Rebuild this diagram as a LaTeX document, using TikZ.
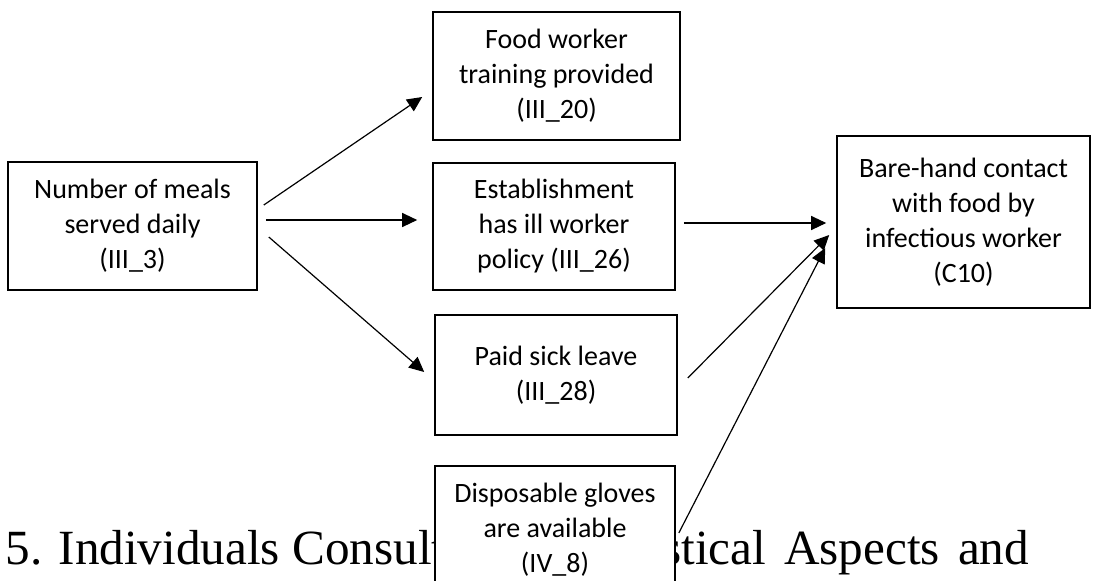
\documentclass[tikz,border=0pt]{standalone}
\usepackage{fontspec}
\setmainfont{Carlito}
\newfontfamily\headfont{Liberation Serif}
\usepackage{tikz}
\usetikzlibrary{arrows.meta}

\begin{document}
\begin{tikzpicture}[x=0.5pt,y=-0.5pt,
  factor/.style={draw,thick,fill=white,align=center,inner sep=0pt,
    font=\fontsize{14}{17.5}\selectfont},
  link/.style={-{Triangle[length=7.5pt,width=7pt]},semithick}]
\clip (0,0) rectangle (1093,580);
\fill[white] (0,0) rectangle (1093,580);
% heading of the page behind the figure
\node[anchor=base west,inner sep=0pt,
  font=\headfont\fontsize{24.6}{29}\selectfont] (heading) at (5,564)
  {5. Individuals Consulted\hspace{7.75pt}on\hspace{7.75pt}Statistical\hspace{9pt}Aspects\hspace{9pt}and};
\node[factor,minimum width=124.5pt,minimum height=64pt] (meals) at (132.5,226)
  {Number of meals\\served daily\\(III\_3)};
\node[factor,minimum width=123.5pt,minimum height=64pt] (training) at (556.5,76)
  {Food worker\\training provided\\(III\_20)};
\node[factor,minimum width=121pt,minimum height=63.5pt] (policy) at (554,226.5)
  {Establishment\\has ill worker\\policy (III\_26)};
\node[factor,minimum width=121pt,minimum height=60pt] (sickleave) at (556,375)
  {Paid sick leave\\(III\_28)};
\node[factor,minimum width=120pt,minimum height=64pt] (gloves) at (555,530)
  {Disposable gloves\\are available\\(IV\_8)};
\node[factor,minimum width=126.5pt,minimum height=86pt] (contact) at (963.5,222)
  {Bare-hand contact\\with food by\\infectious worker\\(C10)};
\draw[link] ([shift={(6,-21)}]meals.east) -- ([shift={(-10,21)}]training.west);
\draw[link] ([shift={(8,-6)}]meals.east) -- ([shift={(-15,-6.5)}]policy.west);
\draw[link] ([shift={(11,11)}]meals.east) -- ([shift={(-10,-3)}]sickleave.west);
\draw[link] ([shift={(8,-3.5)}]policy.east) -- ([shift={(-10,1)}]contact.west);
\draw[link] ([shift={(10,3)}]sickleave.east) -- ([shift={(-7,13)}]contact.west);
\draw[link] ([shift={(3,3)}]gloves.east) -- ([shift={(-11,26)}]contact.west);
\end{tikzpicture}
\end{document}
